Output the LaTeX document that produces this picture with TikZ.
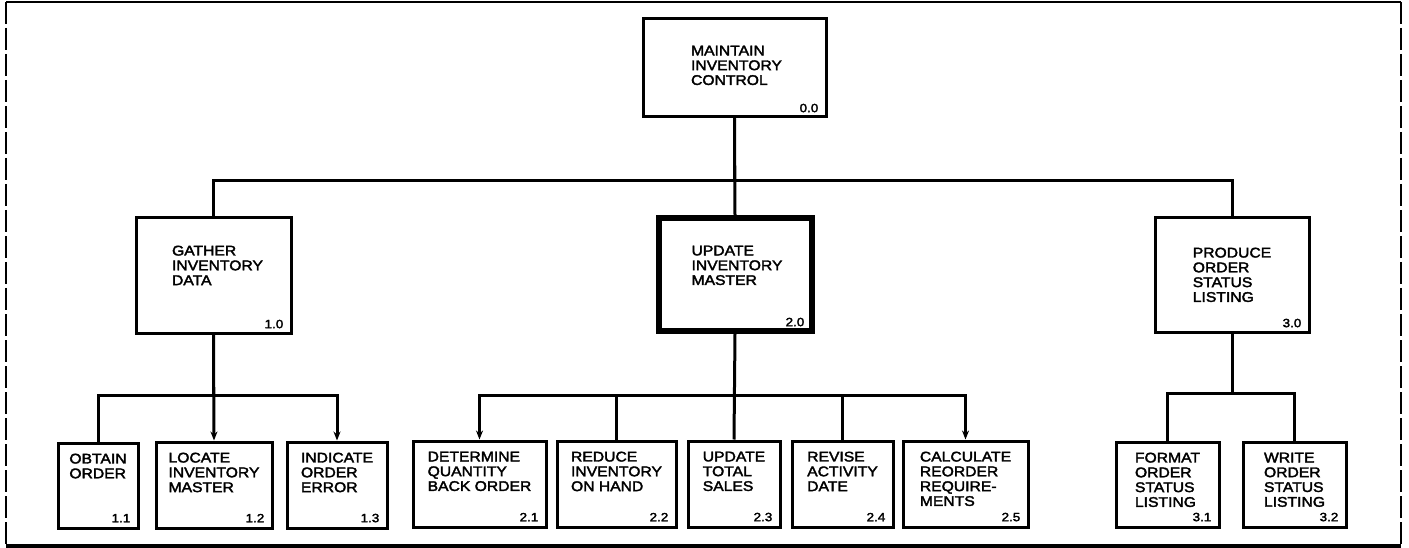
\documentclass[tikz,border=0pt]{standalone}
\usepackage{fontspec}
\newfontfamily\dfont[FakeStretch=1.12,FakeBold=2.5]{Liberation Sans}
\usetikzlibrary{arrows.meta}
\begin{document}
\begin{tikzpicture}[x=1pt,y=-1pt,
  box/.style={draw,line width=3pt,inner sep=0pt},
  mainbox/.style={draw,line width=6pt,inner sep=0pt},
  txt/.style={inner sep=0pt,align=left,font=\dfont\fontsize{14}{14.8}\selectfont},
  num/.style={inner sep=0pt,font=\dfont\fontsize{12}{12}\selectfont},
  conn/.style={line width=3pt},
  arr/.style={conn,-{Stealth[length=9pt,width=7pt]}},
  frameline/.style={line width=2.2pt},
  sideline/.style={line width=2.2pt,dash pattern=on 22pt off 4pt}]
\useasboundingbox (0,0) rectangle (1409,548);
% frame
\draw[frameline] (6,2) -- (1401,2);
\draw[line width=3.2pt] (6,546) -- (1401,546);
\draw[sideline] (6,2) -- (6,546);
\draw[sideline] (1401,2) -- (1401,546);
% top level
\node[box,minimum width=183pt,minimum height=98pt] (n00) at (734.5,68) {};
% second level
\node[box,minimum width=155pt,minimum height=115pt] (n10) at (213.5,275.5) {};
\node[mainbox,minimum width=153pt,minimum height=112pt] (n20) at (735,274.5) {};
\node[box,minimum width=154pt,minimum height=114pt] (n30) at (1232,275) {};
% third level
\node[box,minimum width=80pt,minimum height=85pt] (n11) at (98,485.5) {};
\node[box,minimum width=116pt,minimum height=86pt] (n12) at (214,485) {};
\node[box,minimum width=100pt,minimum height=86pt] (n13) at (337,485) {};
\node[box,minimum width=133pt,minimum height=86pt] (n21) at (479.5,484) {};
\node[box,minimum width=119pt,minimum height=86pt] (n22) at (616.5,484) {};
\node[box,minimum width=92pt,minimum height=86pt] (n23) at (734,484) {};
\node[box,minimum width=101pt,minimum height=86pt] (n24) at (842.5,484) {};
\node[box,minimum width=125pt,minimum height=86pt] (n25) at (965.5,484) {};
\node[box,minimum width=103pt,minimum height=85pt] (n31) at (1167.5,484.5) {};
\node[box,minimum width=103pt,minimum height=85pt] (n32) at (1294.5,484.5) {};
% texts
\node[txt,anchor=north] (t00) at ([shift={(2,28)}]n00.north) {MAINTAIN\\INVENTORY\\CONTROL};
\node[txt,anchor=north] (t10) at ([shift={(4,29)}]n10.north) {GATHER\\INVENTORY\\DATA};
\node[txt,anchor=north] (t20) at ([shift={(2,30)}]n20.north) {UPDATE\\INVENTORY\\MASTER};
\node[txt,anchor=north] (t30) at ([shift={(0,31)}]n30.north) {PRODUCE\\ORDER\\STATUS\\LISTING};
\node[txt,anchor=north] (t11) at ([shift={(0,12)}]n11.north) {OBTAIN\\ORDER};
\node[txt,anchor=north] (t12) at ([shift={(0,12)}]n12.north) {LOCATE\\INVENTORY\\MASTER};
\node[txt,anchor=north] (t13) at ([shift={(0,12)}]n13.north) {INDICATE\\ORDER\\ERROR};
\node[txt,anchor=north] (t21) at ([shift={(0,12)}]n21.north) {DETERMINE\\QUANTITY\\BACK ORDER};
\node[txt,anchor=north] (t22) at ([shift={(0,12)}]n22.north) {REDUCE\\INVENTORY\\ON HAND};
\node[txt,anchor=north] (t23) at ([shift={(0,12)}]n23.north) {UPDATE\\TOTAL\\SALES};
\node[txt,anchor=north] (t24) at ([shift={(0,12)}]n24.north) {REVISE\\ACTIVITY\\DATE};
\node[txt,anchor=north] (t25) at ([shift={(0,12)}]n25.north) {CALCULATE\\REORDER\\REQUIRE-\\MENTS};
\node[txt,anchor=north] (t31) at ([shift={(0,12)}]n31.north) {FORMAT\\ORDER\\STATUS\\LISTING};
\node[txt,anchor=north] (t32) at ([shift={(0,12)}]n32.north) {WRITE\\ORDER\\STATUS\\LISTING};
% numbers
\node[num,anchor=south east] (c00) at ([shift={(-9,-6)}]n00.south east) {0.0};
\node[num,anchor=south east] (c10) at ([shift={(-9,-6)}]n10.south east) {1.0};
\node[num,anchor=south east] (c20) at ([shift={(-10,-7)}]n20.south east) {2.0};
\node[num,anchor=south east] (c30) at ([shift={(-9,-6)}]n30.south east) {3.0};
\node[num,anchor=south east] (c11) at ([shift={(-9,-7)}]n11.south east) {1.1};
\node[num,anchor=south east] (c12) at ([shift={(-9,-7)}]n12.south east) {1.2};
\node[num,anchor=south east] (c13) at ([shift={(-9,-7)}]n13.south east) {1.3};
\node[num,anchor=south east] (c21) at ([shift={(-9,-7)}]n21.south east) {2.1};
\node[num,anchor=south east] (c22) at ([shift={(-9,-7)}]n22.south east) {2.2};
\node[num,anchor=south east] (c23) at ([shift={(-9,-7)}]n23.south east) {2.3};
\node[num,anchor=south east] (c24) at ([shift={(-9,-7)}]n24.south east) {2.4};
\node[num,anchor=south east] (c25) at ([shift={(-9,-7)}]n25.south east) {2.5};
\node[num,anchor=south east] (c31) at ([shift={(-9,-7)}]n31.south east) {3.1};
\node[num,anchor=south east] (c32) at ([shift={(-9,-7)}]n32.south east) {3.2};
% bus levels
\coordinate (busA) at (0,181);
\coordinate (busB) at (0,395);
\coordinate (busC) at (0,393);
% connectors top level
\draw[conn] (n00.south) -- (n00.south |- busA) -| (n10.north);
\draw[conn] (n00.south) -- (n20.north);
\draw[conn] (n00.south |- busA) -| (n30.north);
% 1.x
\draw[conn] (n10.south) -- (n10.south |- busB) -| (n11.north);
\draw[arr] (n10.south) -- (n12.north);
\draw[arr] (n10.south |- busB) -| (n13.north);
% 2.x
\draw[conn] (n20.south) -- (n23.north);
\draw[arr] (n20.south |- busB) -| (n21.north);
\draw[arr] (n20.south |- busB) -| (n25.north);
\draw[conn] (n22.north) -- (n22.north |- busB);
\draw[conn] (n24.north) -- (n24.north |- busB);
% 3.x
\draw[conn] (n30.south) -- (n30.south |- busC) -| (n31.north);
\draw[conn] (n30.south |- busC) -| (n32.north);
\end{tikzpicture}
\end{document}
